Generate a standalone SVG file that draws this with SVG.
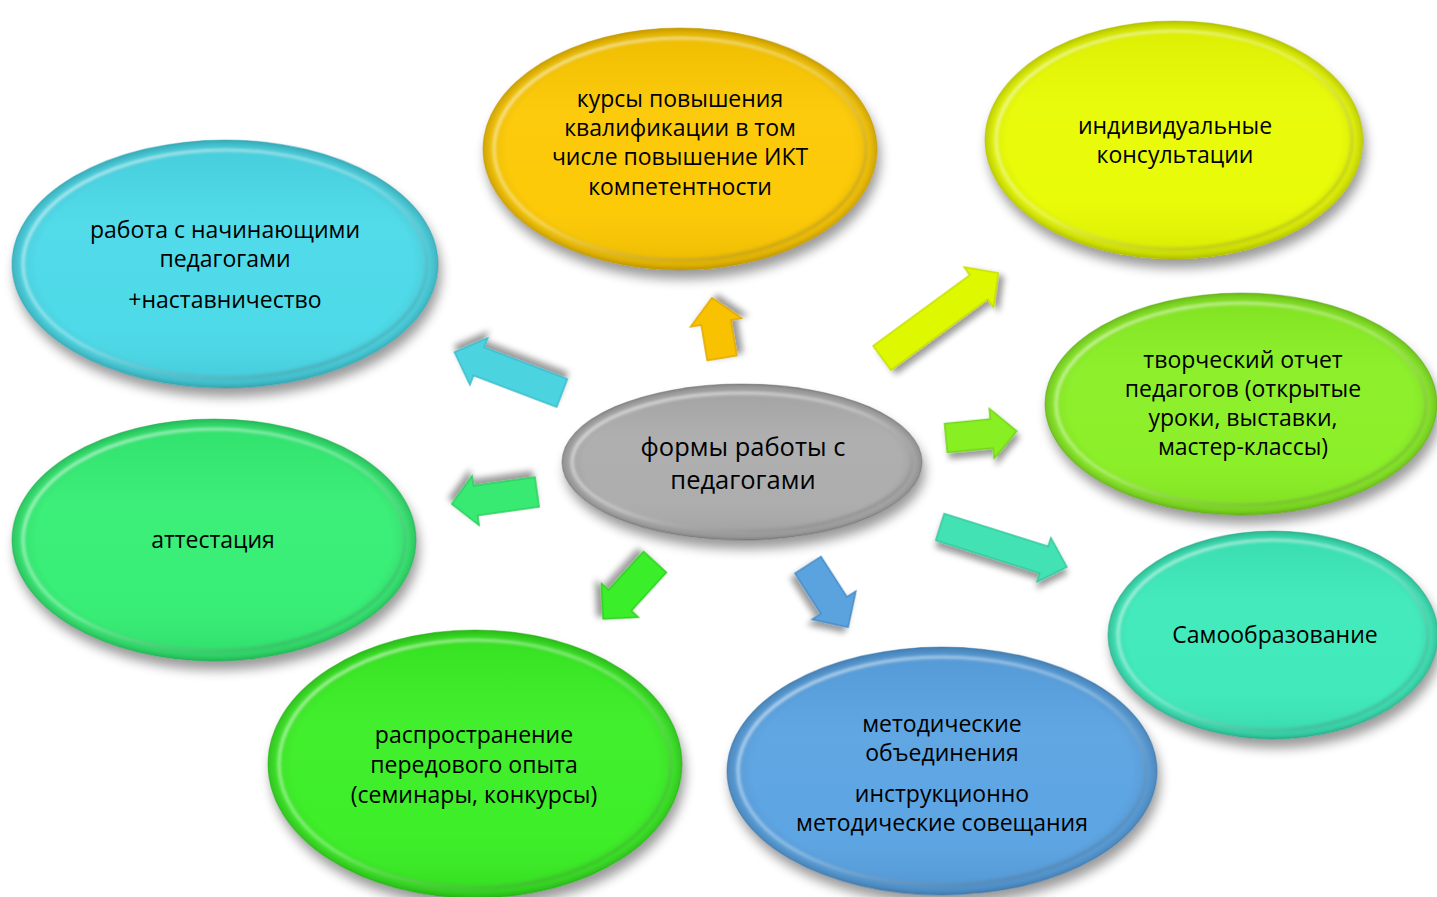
<svg xmlns="http://www.w3.org/2000/svg" width="1437" height="897" viewBox="0 0 1437 897">
<defs>
<filter id="shadow" x="-20%" y="-20%" width="140%" height="150%">
<feGaussianBlur in="SourceAlpha" stdDeviation="6"/>
<feOffset dx="3" dy="9" result="b"/>
<feComponentTransfer><feFuncA type="linear" slope="0.4"/></feComponentTransfer>
<feMerge><feMergeNode/><feMergeNode in="SourceGraphic"/></feMerge>
</filter>
<filter id="ashadow" x="-30%" y="-30%" width="160%" height="170%">
<feGaussianBlur in="SourceAlpha" stdDeviation="3"/>
<feOffset dx="2" dy="6" result="b"/>
<feComponentTransfer><feFuncA type="linear" slope="0.4"/></feComponentTransfer>
<feMerge><feMergeNode/><feMergeNode in="SourceGraphic"/></feMerge>
</filter>
<filter id="soft"><feGaussianBlur stdDeviation="1.5"/></filter>
<radialGradient id="rim" cx="0.5" cy="0.5" r="0.5">
<stop offset="0.88" stop-color="#000" stop-opacity="0"/>
<stop offset="0.96" stop-color="#000" stop-opacity="0.06"/>
<stop offset="1" stop-color="#000" stop-opacity="0.18"/>
</radialGradient>
<linearGradient id="shade" x1="0" y1="0" x2="0" y2="1">
<stop offset="0" stop-color="#000" stop-opacity="0.06"/>
<stop offset="0.35" stop-color="#fff" stop-opacity="0.05"/>
<stop offset="0.75" stop-color="#fff" stop-opacity="0.03"/>
<stop offset="1" stop-color="#000" stop-opacity="0.08"/>
</linearGradient>
<linearGradient id="bevel" x1="0" y1="0" x2="1" y2="1">
<stop offset="0" stop-color="#fff" stop-opacity="0.7"/>
<stop offset="0.5" stop-color="#fff" stop-opacity="0.35"/>
<stop offset="1" stop-color="#000" stop-opacity="0.15"/>
</linearGradient>
</defs>
<style>
.t{font-family:"Open Sans","Liberation Sans",sans-serif;font-size:23px;fill:#000;text-anchor:middle}
.tc{font-size:25.5px}
.rim{fill:url(#rim)}
.shd{fill:url(#shade)}
.bev{fill:none;stroke:url(#bevel);stroke-width:3;filter:url(#soft)}
.edge{fill:none;stroke-width:1.2;stroke-opacity:0.45}
.ar{stroke-width:1.5;stroke-linejoin:miter;filter:url(#ashadow)}
</style>

<g id="connectors">
<polygon class="ar" transform="translate(562,393) rotate(200.8)" points="0,-15 89,-15 89,-25 115,0 89,25 89,15 0,15" fill="#4cd3e0" stroke="#3bbccb"/>
<polygon class="ar" transform="translate(722,358) rotate(260.5)" points="0,-15 36,-15 36,-26 61,0 36,26 36,15 0,15" fill="#f9c200" stroke="#e0a800"/>
<polygon class="ar" transform="translate(882,358) rotate(-36.2)" points="0,-15 120,-15 120,-25 144,0 120,25 120,15 0,15" fill="#def800" stroke="#c6de00"/>
<polygon class="ar" transform="translate(946,438) rotate(-5.6)" points="0,-14.5 46,-14.5 46,-25 71,0 46,25 46,14.5 0,14.5" fill="#88f020" stroke="#72d418"/>
<polygon class="ar" transform="translate(940,527) rotate(17.5)" points="0,-14 109,-14 109,-23 133,0 109,23 109,14 0,14" fill="#42e2b4" stroke="#34c89c"/>
<polygon class="ar" transform="translate(537,492) rotate(172)" points="0,-15 62,-15 62,-25 86,0 62,25 62,15 0,15" fill="#38ea72" stroke="#2ccf5e"/>
<polygon class="ar" transform="translate(655,562) rotate(132.4)" points="0,-15.5 52,-15.5 52,-25 77,0 52,25 52,15.5 0,15.5" fill="#3aee2a" stroke="#2ed020"/>
<polygon class="ar" transform="translate(808,565) rotate(57.2)" points="0,-15.5 48,-15.5 48,-26 74,0 48,26 48,15.5 0,15.5" fill="#5aa3de" stroke="#4a8cc6"/>
</g>

<g id="center">
<ellipse cx="742" cy="462" rx="180" ry="78" fill="#ababab" filter="url(#shadow)"/>
<ellipse class="shd" cx="742" cy="462" rx="180" ry="78"/>
<ellipse class="rim" cx="742" cy="462" rx="180" ry="78"/>
<ellipse class="bev" cx="742" cy="462" rx="170" ry="69"/>
<ellipse class="edge" cx="742" cy="462" rx="180" ry="78" stroke="#6a6a6a"/>
<text class="t tc" x="743" y="456">формы работы с</text>
<text class="t tc" x="743" y="489">педагогами</text>
</g>

<g id="courses">
<ellipse cx="680" cy="149" rx="197" ry="121" fill="#fcc800" filter="url(#shadow)"/>
<ellipse class="shd" cx="680" cy="149" rx="197" ry="121"/>
<ellipse class="rim" cx="680" cy="149" rx="197" ry="121"/>
<ellipse class="bev" cx="680" cy="149" rx="186" ry="111"/>
<ellipse class="edge" cx="680" cy="149" rx="197" ry="121" stroke="#c89400"/>
<text class="t" x="680" y="107">курсы повышения</text>
<text class="t" x="680" y="136">квалификации в том</text>
<text class="t" x="680" y="165">числе повышение ИКТ</text>
<text class="t" x="680" y="195">компетентности</text>
</g>

<g id="consult">
<ellipse cx="1174" cy="140" rx="189" ry="119" fill="#e8fb00" filter="url(#shadow)"/>
<ellipse class="shd" cx="1174" cy="140" rx="189" ry="119"/>
<ellipse class="rim" cx="1174" cy="140" rx="189" ry="119"/>
<ellipse class="bev" cx="1174" cy="140" rx="178" ry="109"/>
<ellipse class="edge" cx="1174" cy="140" rx="189" ry="119" stroke="#b0c000"/>
<text class="t" x="1175" y="134">индивидуальные</text>
<text class="t" x="1175" y="163">консультации</text>
</g>

<g id="novice">
<ellipse cx="225" cy="264" rx="213" ry="124" fill="#48d9e8" filter="url(#shadow)"/>
<ellipse class="shd" cx="225" cy="264" rx="213" ry="124"/>
<ellipse class="rim" cx="225" cy="264" rx="213" ry="124"/>
<ellipse class="bev" cx="225" cy="264" rx="202" ry="114"/>
<ellipse class="edge" cx="225" cy="264" rx="213" ry="124" stroke="#2aa8b8"/>
<text class="t" x="225" y="238">работа с начинающими</text>
<text class="t" x="225" y="267">педагогами</text>
<text class="t" x="225" y="308">+наставничество</text>
</g>

<g id="report">
<ellipse cx="1241" cy="404" rx="196" ry="111" fill="#88ef20" filter="url(#shadow)"/>
<ellipse class="shd" cx="1241" cy="404" rx="196" ry="111"/>
<ellipse class="rim" cx="1241" cy="404" rx="196" ry="111"/>
<ellipse class="bev" cx="1241" cy="404" rx="185" ry="101"/>
<ellipse class="edge" cx="1241" cy="404" rx="196" ry="111" stroke="#5aa810"/>
<text class="t" x="1243" y="368">творческий отчет</text>
<text class="t" x="1243" y="397">педагогов (открытые</text>
<text class="t" x="1243" y="426">уроки, выставки,</text>
<text class="t" x="1243" y="455">мастер-классы)</text>
</g>

<g id="attest">
<ellipse cx="214" cy="540" rx="202" ry="121" fill="#30ee72" filter="url(#shadow)"/>
<ellipse class="shd" cx="214" cy="540" rx="202" ry="121"/>
<ellipse class="rim" cx="214" cy="540" rx="202" ry="121"/>
<ellipse class="bev" cx="214" cy="540" rx="191" ry="111"/>
<ellipse class="edge" cx="214" cy="540" rx="202" ry="121" stroke="#1cae50"/>
<text class="t" x="213" y="548">аттестация</text>
</g>

<g id="self">
<ellipse cx="1273" cy="635" rx="165" ry="104" fill="#3be9b9" filter="url(#shadow)"/>
<ellipse class="shd" cx="1273" cy="635" rx="165" ry="104"/>
<ellipse class="rim" cx="1273" cy="635" rx="165" ry="104"/>
<ellipse class="bev" cx="1273" cy="635" rx="155" ry="95"/>
<ellipse class="edge" cx="1273" cy="635" rx="165" ry="104" stroke="#22a888"/>
<text class="t" x="1275" y="643">Самообразование</text>
</g>

<g id="spread">
<ellipse cx="475" cy="764" rx="207" ry="134" fill="#38ee22" filter="url(#shadow)"/>
<ellipse class="shd" cx="475" cy="764" rx="207" ry="134"/>
<ellipse class="rim" cx="475" cy="764" rx="207" ry="134"/>
<ellipse class="bev" cx="475" cy="764" rx="196" ry="124"/>
<ellipse class="edge" cx="475" cy="764" rx="207" ry="134" stroke="#20b010"/>
<text class="t" x="474" y="743">распространение</text>
<text class="t" x="474" y="773">передового опыта</text>
<text class="t" x="474" y="803">(семинары, конкурсы)</text>
</g>

<g id="method">
<ellipse cx="942" cy="771" rx="215" ry="124" fill="#58a2e2" filter="url(#shadow)"/>
<ellipse class="shd" cx="942" cy="771" rx="215" ry="124"/>
<ellipse class="rim" cx="942" cy="771" rx="215" ry="124"/>
<ellipse class="bev" cx="942" cy="771" rx="204" ry="114"/>
<ellipse class="edge" cx="942" cy="771" rx="215" ry="124" stroke="#3574b0"/>
<text class="t" x="942" y="732">методические</text>
<text class="t" x="942" y="761">объединения</text>
<text class="t" x="942" y="802">инструкционно</text>
<text class="t" x="942" y="831">методические совещания</text>
</g>
</svg>
